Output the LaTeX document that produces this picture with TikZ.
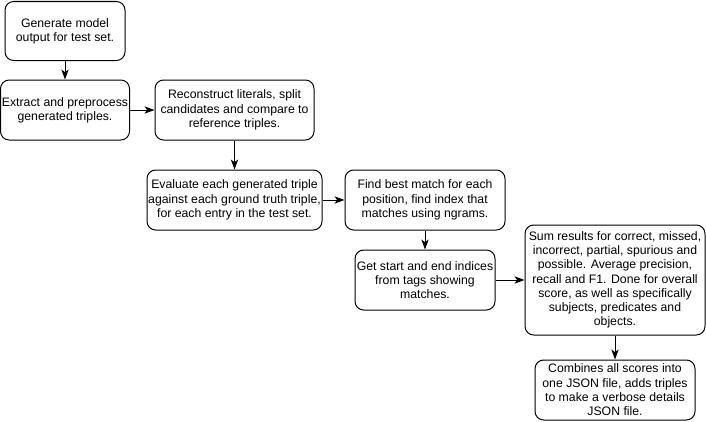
\documentclass[tikz,border=0pt]{standalone}
\usepackage{fontspec}
\setmainfont{Liberation Sans}
\usetikzlibrary{arrows.meta}
\begin{document}
\begin{tikzpicture}[x=0.75pt,y=-0.75pt,
  box/.style={draw,line width=0.75pt,rounded corners=6.5pt,align=center,
    font=\fontsize{9.2pt}{10.7pt}\selectfont,inner sep=0pt},
  conn/.style={line width=0.75pt,-{Stealth[length=7.5pt,width=5.5pt,inset=2pt]}}]
\useasboundingbox (0,0) rectangle (706,421);
\node[box,minimum width=120*0.75pt,minimum height=59*0.75pt] (b1) at (65,31) {Generate model\\output for test set.};
\node[box,minimum width=129*0.75pt,minimum height=60*0.75pt] (b2) at (65,110) {Extract and preprocess\\generated triples.};
\node[box,minimum width=159*0.75pt,minimum height=60*0.75pt] (b3) at (234.5,110) {Reconstruct literals, split\\candidates and compare to\\reference triples.};
\node[box,minimum width=175*0.75pt,minimum height=60*0.75pt] (b4) at (234.5,200) {Evaluate each generated triple\\against each ground truth triple,\\for each entry in the test set.};
\node[box,minimum width=160*0.75pt,minimum height=60*0.75pt] (b5) at (425,200) {Find best match for each\\position, find index that\\matches using ngrams.};
\node[box,minimum width=140*0.75pt,minimum height=60*0.75pt] (b6) at (425,280) {Get start and end indices\\from tags showing\\matches.};
\node[box,minimum width=180*0.75pt,minimum height=110*0.75pt] (b7) at (615,280) {Sum results for correct, missed,\\incorrect, partial, spurious and\\possible. Average precision,\\recall and F1. Done for overall\\score, as well as specifically\\subjects, predicates and\\objects.};
\node[box,minimum width=160*0.75pt,minimum height=60*0.75pt] (b8) at (615,390) {Combines all scores into\\one JSON file, adds triples\\to make a verbose details\\JSON file.};
\draw[conn] (b1) -- (b2);
\draw[conn] (b2) -- (b3);
\draw[conn] (b3) -- (b4);
\draw[conn] (b4) -- (b5);
\draw[conn] (b5) -- (b6);
\draw[conn] (b6) -- (b7);
\draw[conn] (b7) -- (b8);
\end{tikzpicture}
\end{document}
